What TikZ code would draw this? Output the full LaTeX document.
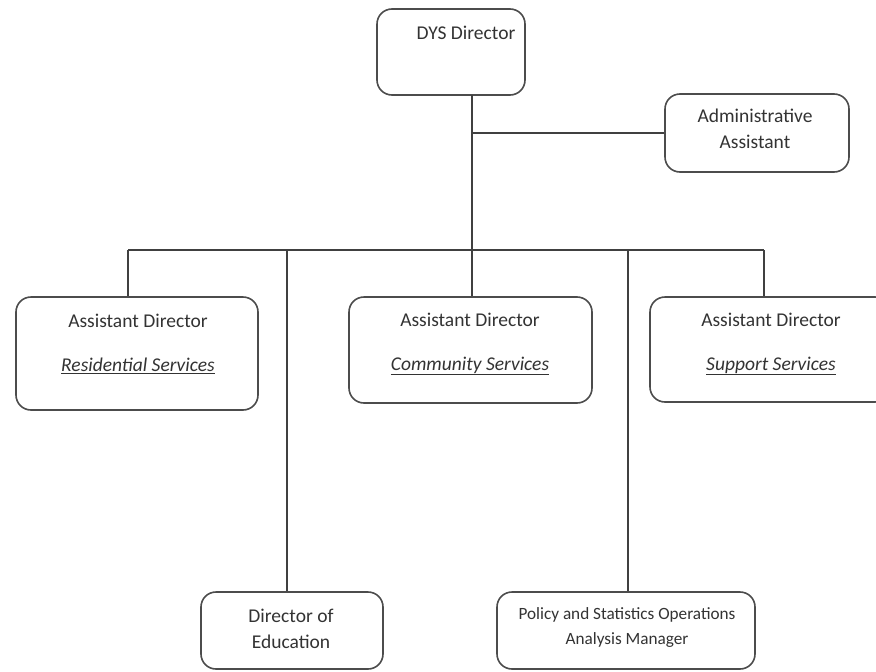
\documentclass[tikz,border=0pt]{standalone}
\usepackage{fontspec}
\setmainfont{Carlito}
\usetikzlibrary{positioning}
\tikzset{
    box/.style = {
        draw=black!70,
        shape=rectangle,
        line width=1.6pt,
        rounded corners=15pt,
        fill=white
    },
    txt/.style = {
        align=center,
        text=black!80,
        font=\fontsize{19.5}{26}\selectfont
    },
    smalltxt/.style = {
        align=center,
        text=black!80,
        font=\fontsize{17.2}{25}\selectfont
    },
    wire/.style = {
        draw=black!75,
        line width=1.8pt
    }
}

\begin{document}
\begin{tikzpicture}[x=1pt,y=-1pt]
            \clip (0,0) rectangle (876,672);

            \node[box, minimum width=148pt, minimum height=86pt] (dys) at (451,52) {};
            \node[box, minimum width=184pt, minimum height=78pt] (admin) at (757,133) {};
            \node[box, minimum width=242pt, minimum height=113pt] (resid) at (137,353.5) {};
            \node[box, minimum width=243pt, minimum height=106pt] (comm) at (470.5,350) {};
            \node[box, minimum width=240pt, minimum height=105pt] (supp) at (770,349.5) {};
            \node[box, minimum width=182pt, minimum height=77pt] (edu) at (292,630.5) {};
            \node[box, minimum width=258pt, minimum height=77pt] (policy) at (626,630.5) {};

            \node[txt] (dystxt) at (466,33) {DYS Director};
            \node[txt] (admintxt) at (755,129) {Administrative\\Assistant};
            \node[txt] (residtxt) at (138,344) {Assistant Director\\[18pt]\textit{\underline{Residential Services}}};
            \node[txt] (commtxt) at (470,344) {Assistant Director\\[18pt]\textit{\underline{Community Services}}};
            \node[txt] (supptxt) at (771,344) {Assistant Director\\[18pt]\textit{\underline{Support Services}}};
            \node[txt] (edutxt) at (291,628.5) {Director of\\Education};
            \node[smalltxt] (policytxt) at (627,627.5) {Policy and Statistics Operations\\Analysis Manager};

            % bus line
            \coordinate (trunk) at (472,250);
            \coordinate (busL) at (128,250);
            \coordinate (busE) at (287,250);
            \coordinate (busP) at (628,250);
            \coordinate (busR) at (764,250);
            \coordinate (dysout) at (472,95);

            \path[wire] (dysout) -- (trunk);
            \path[wire] (admin.west) -- (admin.west -| trunk);
            \path[wire] (busL) -- (busR);

            \path[wire] (busL) -- (busL |- resid.north);
            \path[wire] (busE) -- (busE |- edu.north);
            \path[wire] (trunk) -- (trunk |- comm.north);
            \path[wire] (busP) -- (busP |- policy.north);
            \path[wire] (busR) -- (busR |- supp.north);

        \end{tikzpicture}
\end{document}
